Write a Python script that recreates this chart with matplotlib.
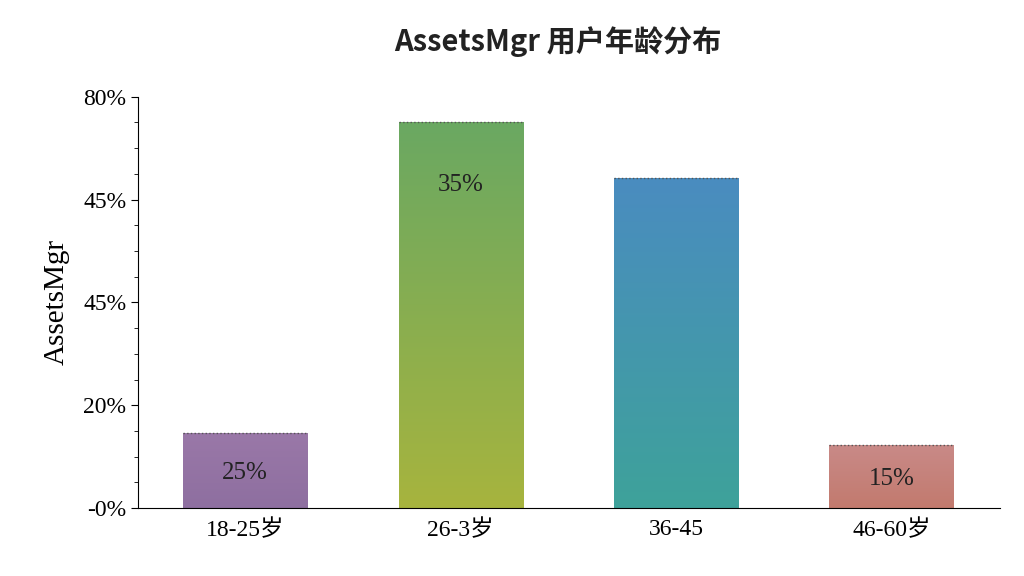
import matplotlib
matplotlib.use("Agg")
import matplotlib.pyplot as plt
import numpy as np
from matplotlib.colors import LinearSegmentedColormap

categories = ["18-25岁", "26-3岁", "36-45", "46-60岁"]
values = [14.6, 75.1, 64.2, 12.3]
bar_labels = ["25%", "35%", "", "15%"]
tick_vals = [0, 20, 40, 60, 80]
tick_labels = ["-0%", "20%", "45%", "45%", "80%"]
top_colors = ["#9a78a8", "#6aa862", "#4a8cc0", "#c98a88"]
bot_colors = ["#8e6fa0", "#a7b43e", "#3ea29a", "#c27a6e"]

serif = ["Liberation Serif", "Noto Sans CJK SC"]
fig, ax = plt.subplots(figsize=(10.24, 5.76), dpi=100)
fig.subplots_adjust(left=0.135, right=0.977, top=0.832, bottom=0.118)

x = np.arange(len(categories))
w = 0.576
bars = ax.bar(x, values, width=w, color="none")
for i, b in enumerate(bars):
    cmap = LinearSegmentedColormap.from_list("g", [bot_colors[i], top_colors[i]])
    grad = np.linspace(0, 1, 256).reshape(-1, 1)
    im = ax.imshow(grad, cmap=cmap, origin="lower", aspect="auto",
                   extent=[x[i] - w/2, x[i] + w/2, 0, values[i]], zorder=2)
    im.set_clip_path(b)
    ax.plot([x[i] - w/2, x[i] + w/2], [values[i]]*2, color="#555555", lw=1, ls=":", zorder=3)
    if bar_labels[i]:
        ypos = values[i] - 12.3 if values[i] > 40 else values[i] / 2 - 0.5
        ax.text(x[i], ypos, bar_labels[i], ha="center", va="center",
                fontsize=18, family=serif, color="#222222", zorder=4)

ax.set_xlim(-0.497, 3.506)
ax.set_ylim(0, 80)
ax.set_xticks(x)
ax.set_xticklabels(categories, family=serif, fontsize=17)
ax.set_yticks(tick_vals)
ax.set_yticklabels(tick_labels, family=serif, fontsize=17)
ax.set_yticks(np.arange(0, 81, 5), minor=True)
ax.tick_params(axis="y", which="minor", length=3)
ax.tick_params(axis="y", which="major", length=5)
ax.tick_params(axis="x", length=0, pad=8)
for s in ["top", "right"]:
    ax.spines[s].set_visible(False)
ax.set_ylabel("AssetsMgr", family=serif, fontsize=21, labelpad=10)
fig.suptitle("AssetsMgr 用户年龄分布", x=0.545, y=0.955, fontsize=21, fontweight="bold",
             family=["Noto Sans CJK SC", "DejaVu Sans"], color="#222222")
fig.savefig("out.png")
